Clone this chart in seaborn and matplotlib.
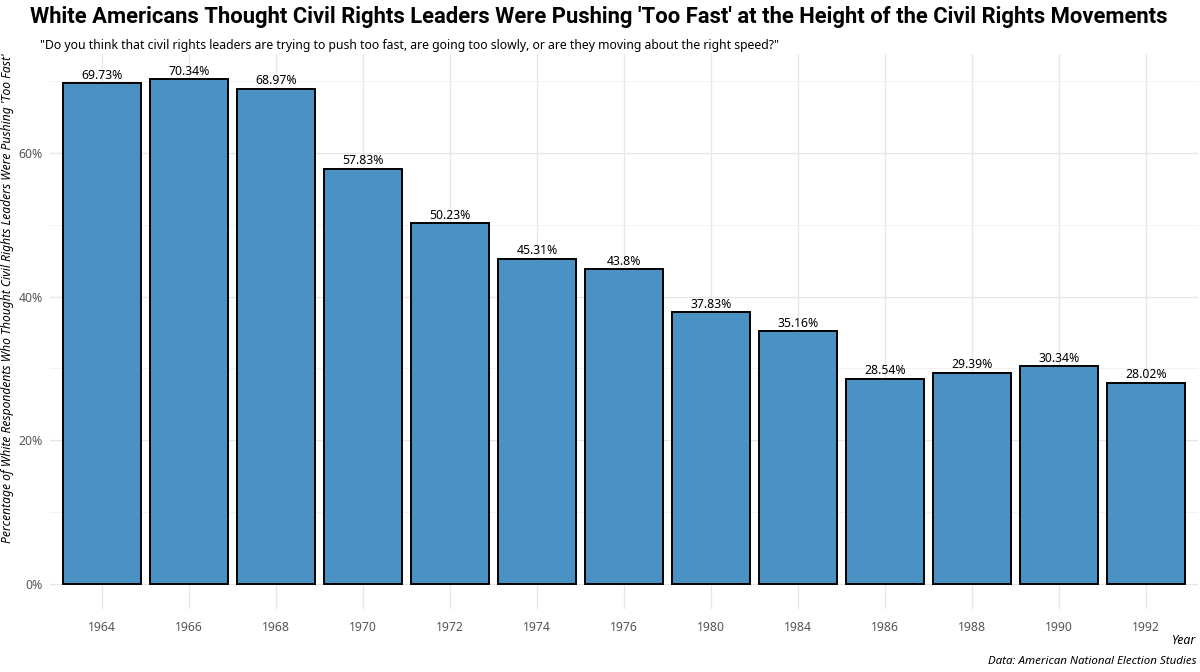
import matplotlib
matplotlib.use("Agg")
import matplotlib.pyplot as plt
import seaborn as sns
import pandas as pd
from matplotlib.ticker import MultipleLocator, FuncFormatter

# data
years = ["1964", "1966", "1968", "1970", "1972", "1974", "1976",
         "1980", "1984", "1986", "1988", "1990", "1992"]
too_fast = [69.73, 70.34, 68.97, 57.83, 50.23, 45.31, 43.8,
            37.83, 35.16, 28.54, 29.39, 30.34, 28.02]

df = pd.DataFrame({"year": years, "pct": too_fast})

sns.set_theme(style="whitegrid")
plt.rcParams["font.family"] = ["Noto Sans", "DejaVu Sans"]

fig = plt.figure(figsize=(12, 6.72), dpi=100)
ax = fig.add_axes([0.0417, 0.094, 0.957, 0.826])

sns.barplot(data=df, x="year", y="pct", color="#4a92c4", saturation=1,
            edgecolor="black", linewidth=1.4, width=0.9, ax=ax, zorder=3)

ax.bar_label(ax.containers[0], labels=[f"{v:g}%" for v in too_fast],
             padding=1, fontsize=8.8, color="black")

ax.set_ylim(-3.52, 73.86)
ax.set_xlim(-0.6, len(years) - 0.4)
ax.yaxis.set_major_locator(MultipleLocator(20))
ax.yaxis.set_minor_locator(MultipleLocator(10))
ax.yaxis.set_major_formatter(FuncFormatter(lambda v, p: f"{v:.0f}%"))
ax.grid(which="major", color="#e6e6e6", linewidth=0.9)
ax.grid(which="minor", axis="y", color="#f0f0f0", linewidth=0.6)
ax.set_axisbelow(True)
for s in ax.spines.values():
    s.set_visible(False)

ax.tick_params(axis="both", which="major", length=3, width=0.9,
               color="#444444", labelsize=8.8, labelcolor="#555555", pad=2)
ax.tick_params(axis="x", pad=6)
ax.tick_params(axis="y", which="minor", length=0)

ax.set_xlabel("")
ax.set_ylabel("Percentage of White Respondents Who Thought Civil Rights Leaders Were Pushing 'Too Fast'",
              fontsize=8.7, style="italic", color="black")
ax.yaxis.set_label_coords(-0.031, 0.56)

fig.text(0.025, 0.975, "White Americans Thought Civil Rights Leaders Were Pushing 'Too Fast' at the Height of the Civil Rights Movements",
         fontsize=15.8, fontweight="bold", family=["Roboto", "DejaVu Sans"],
         color="black", ha="left", va="center")
fig.text(0.033, 0.933, "\"Do you think that civil rights leaders are trying to push too fast, are going too slowly, or are they moving about the right speed?\"",
         fontsize=8.8, color="black", ha="left", va="center")
fig.text(0.997, 0.047, "Year", fontsize=8.8, style="italic", color="black",
         ha="right", va="center")
fig.text(0.997, 0.016, "Data: American National Election Studies", fontsize=8.3,
         style="italic", color="black", ha="right", va="center")

fig.savefig("out.png", dpi=100, facecolor="white")
